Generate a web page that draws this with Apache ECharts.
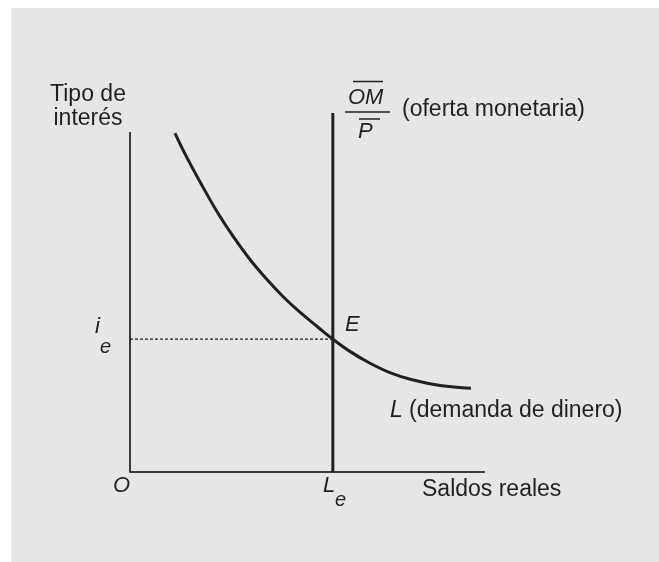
<!DOCTYPE html>
<html>
<head>
<meta charset="utf-8">
<script src="https://cdn.jsdelivr.net/npm/echarts@6/dist/echarts.min.js"></script>
<style>
  html, body { margin: 0; padding: 0; background: #fff; }
  #main { width: 659px; height: 562px; }
</style>
</head>
<body>
<div id="main"></div>
<script>
// money demand curve L (arbitrary units 0-10)
var demandX = [1.27, 1.55, 1.98, 2.46, 2.91, 3.39, 3.87, 4.32, 4.80, 5.28, 5.73, 6.21, 6.78, 7.34, 7.97, 8.76, 9.63];
var demandY = [9.44, 8.87, 8.08, 7.25, 6.57, 5.92, 5.36, 4.89, 4.45, 4.06, 3.70, 3.36, 3.03, 2.77, 2.57, 2.41, 2.33];

// equilibrium
var Le = 5.73;
var ie = 3.70;
var supplyTop = 10;
var yAxisTop = 9.47;

var ink = '#231f20';
var font = '"Liberation Sans", Arial, sans-serif';

var chartDom = document.getElementById('main');
var myChart = echarts.init(chartDom);
var option;

var demandData = demandX.map(function (x, i) { return [x, demandY[i]]; });

function txt(x, y, text, opts) {
  opts = opts || {};
  return {
    type: 'text',
    x: x,
    y: y,
    style: {
      text: text,
      fill: ink,
      font: (opts.italic ? 'italic ' : '') + (opts.size || 23) + 'px ' + font,
      textAlign: opts.align || 'left',
      textVerticalAlign: 'middle'
    }
  };
}

function seg(x1, y1, x2, y2, w) {
  return {
    type: 'line',
    shape: { x1: x1, y1: y1, x2: x2, y2: y2 },
    style: { stroke: ink, lineWidth: w || 1.5 }
  };
}

option = {
  backgroundColor: '#fff',
  animation: false,
  grid: { left: 130, right: 175, top: 113, bottom: 90 },
  xAxis: {
    type: 'value',
    min: 0,
    max: 10,
    axisLine: { show: true, onZero: false, lineStyle: { color: '#3a3a3a', width: 2 } },
    axisTick: { show: false },
    axisLabel: { show: false },
    splitLine: { show: false }
  },
  yAxis: {
    type: 'value',
    min: 0,
    max: 10,
    axisLine: { show: false },
    axisTick: { show: false },
    axisLabel: { show: false },
    splitLine: { show: false }
  },
  graphic: [
    {
      type: 'rect',
      z: -10,
      shape: { x: 11, y: 8, width: 648, height: 554 },
      style: { fill: '#e6e6e6' }
    },
    txt(88, 95, 'Tipo de', { align: 'center' }),
    txt(88, 119, 'interés', { align: 'center' }),
    // OM / P fraction
    txt(348, 98, 'OM', { italic: true, size: 22 }),
    seg(353, 81.5, 383, 81.5, 1.5),
    seg(345, 112, 390, 112, 1.5),
    seg(359, 119, 380, 119, 1.5),
    txt(358, 132, 'P', { italic: true, size: 22 }),
    txt(402, 110, '(oferta monetaria)'),
    txt(345, 325, 'E', { italic: true, size: 22 }),
    txt(390, 411, 'L', { italic: true }),
    txt(409, 411, '(demanda de dinero)'),
    txt(113, 486, 'O', { italic: true, size: 22 }),
    txt(323, 486, 'L', { italic: true, size: 22 }),
    txt(335, 500, 'e', { italic: true, size: 20 }),
    txt(422, 490, 'Saldos reales'),
    txt(95, 327, 'i', { italic: true, size: 22 }),
    txt(100, 347, 'e', { italic: true, size: 20 })
  ],
  series: [
    {
      type: 'line',
      data: [[0, 0], [0, yAxisTop]],
      symbol: 'none',
      silent: true,
      lineStyle: { color: '#3a3a3a', width: 2 }
    },
    {
      type: 'line',
      data: [[0, ie], [Le, ie]],
      symbol: 'none',
      silent: true,
      lineStyle: { color: ink, width: 1.2, type: [3, 2] }
    },
    {
      type: 'line',
      data: [[Le, 0], [Le, supplyTop]],
      symbol: 'none',
      silent: true,
      lineStyle: { color: ink, width: 3 }
    },
    {
      type: 'line',
      data: demandData,
      smooth: 0.4,
      symbol: 'none',
      silent: true,
      lineStyle: { color: ink, width: 3 }
    }
  ]
};

option && myChart.setOption(option);
</script>
</body>
</html>
